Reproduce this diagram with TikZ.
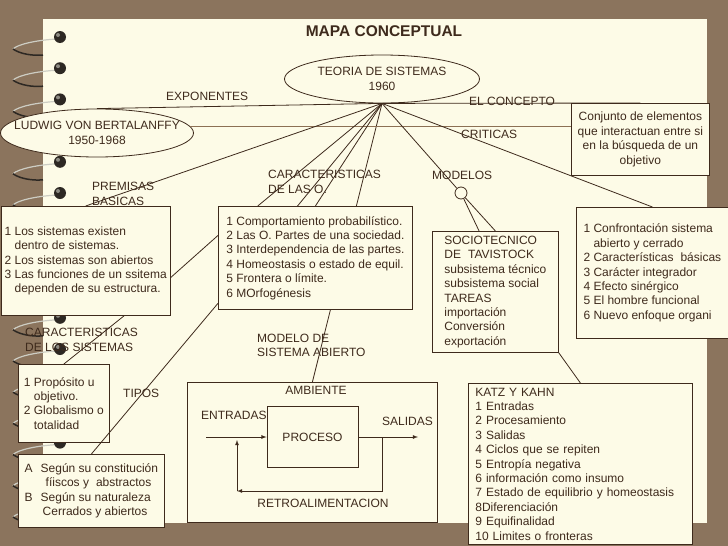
\documentclass[tikz,border=0pt]{standalone}
\usepackage{fontspec}
\setmainfont{Liberation Sans}
\usepackage{tikz}
\usetikzlibrary{calc,positioning,arrows,shapes}

\definecolor{bgbrown}{RGB}{139,116,93}
\definecolor{paper}{RGB}{253,251,231}
\definecolor{ink}{RGB}{62,42,28}
\definecolor{faint}{RGB}{140,112,84}
\definecolor{ringdark}{RGB}{45,40,35}
\definecolor{ringlight}{RGB}{205,205,195}

\begin{document}
\begin{tikzpicture}[x=1pt,y=-1pt,
    txt/.style={font=\fontsize{12}{14.4}\selectfont, text=ink, inner sep=0pt},
    lbl/.style={txt, align=left, anchor=west},
    cbox/.style={txt, draw=ink, fill=paper, align=left, anchor=north west, line width=0.8pt},
    oval/.style={txt, ellipse, draw=ink, fill=paper, align=center, line width=0.8pt},
    link/.style={draw=ink, line width=0.8pt}]
            \fill[bgbrown] (0,0) rectangle (728,546);
            \useasboundingbox (0,0) rectangle (728,546);
            \fill[paper] (43,19) rectangle (707,523);
            \foreach \i in {0,...,15}
              {
                \pgfmathsetmacro{\y}{37+31.2*\i}
                \draw[ringlight, line width=1.2pt] (57,{\y+2}) .. controls (38,{\y+3}) and (18,{\y+7}) .. (13,{\y+12});
                \draw[ringdark, line width=1.5pt] (13,{\y+12}) .. controls (20,{\y+17}) and (33,{\y+19}) .. (43,{\y+18});
                \fill[ringdark] (60,\y) circle (6);
                \fill[ringlight!60!ringdark] (58,{\y-2}) circle (2);
              }
            \node[txt, font=\fontsize{15.5}{18}\selectfont\bfseries] (title) at (384,31) {MAPA CONCEPTUAL};
            \node[oval, minimum width=195, minimum height=48] (teoria) at (382,79) {TEORIA DE SISTEMAS\\1960};
            \coordinate (hub) at (teoria.south);
            \node[oval, minimum width=193, minimum height=48, inner xsep=-35pt] (ludwig) at (97,133) {LUDWIG VON BERTALANFFY\\1950-1968};
            \node[cbox, minimum width=250, minimum height=140] (ambiente) at (187,382) {};
            \draw[link] (hub) -- (ambiente.north);
            \node[cbox, align=center, minimum width=138, minimum height=72] (concepto) at (571,103) {Conjunto de elementos\\que interactuan entre si\\en la búsqueda de un\\objetivo};
            \node[cbox, minimum width=169.5, minimum height=109] (premisas) at (0.5,206) {1 Los sistemas existen\\\hspace*{10pt}dentro de sistemas.\\2 Los sistemas son abiertos\\3 Las funciones de un ssitema\\\hspace*{10pt}dependen de su estructura.};
            \node[cbox, minimum width=194, minimum height=103] (caracO) at (218,206) {1 Comportamiento probabilístico.\\2 Las O. Partes de una sociedad.\\3 Interdependencia de las partes.\\4 Homeostasis o estado de equil.\\5 Frontera o límite.\\6 MOrfogénesis};
            \node[cbox, minimum width=91, minimum height=78] (caracS) at (18,364) {1 Propósito u\\\hspace*{10pt}objetivo.\\2 Globalismo o\\\hspace*{10pt}totalidad};
            \node[cbox, minimum width=146, minimum height=73] (tiposbox) at (18,454) {A\hspace{8pt}Según su constitución\\\hspace*{21pt}fíiscos y\hspace{7pt}abstractos\\B\hspace{8pt}Según su naturaleza\\\hspace*{18pt}Cerrados y abiertos};
            \node[cbox, minimum width=126, minimum height=121] (sociobox) at (432,231) {SOCIOTECNICO\\DE\hspace{7pt}TAVISTOCK\\subsistema técnico\\subsistema social\\TAREAS\\importación\\Conversión\\exportación};
            \node[cbox, minimum width=152, minimum height=131] (confront) at (576,207) {1 Confrontación sistema\\\hspace*{10pt}abierto y cerrado\\2 Características\hspace{7pt}básicas\\3 Carácter integrador\\4 Efecto sinérgico\\5 El hombre funcional\\6 Nuevo enfoque organi};
            \node[cbox, text width=210, inner xsep=7pt, inner ysep=4.5pt] (katz) at (468,383) {KATZ Y KAHN\\1 Entradas\\2 Procesamiento\\3 Salidas\\4 Ciclos que se repiten\\5 Entropía negativa\\6 información como insumo\\7 Estado de equilibrio y homeostasis\\8Diferenciación\\9 Equifinalidad\\10 Limites o fronteras};
            \node[draw=ink, fill=paper, circle, minimum size=12, inner sep=0pt, line width=0.8pt] (modcirc) at (461,193) {};
            \node[txt, draw=ink, fill=paper, minimum width=91, minimum height=61, line width=0.8pt] (proceso) at (312.5,437) {PROCESO};
            \draw[link] (ludwig.north) -- (hub);
            \draw[faint, line width=0.6pt] (ludwig.4) -- (ludwig.4 -| concepto.west);
            \draw[link] (hub) -- (concepto.north);
            \draw[link] (hub) -- (confront.north);
            \draw[link] (hub) -- (premisas.north);
            \draw[link] (hub) -- (caracO.138);
            \draw[link] (hub) -- (caracO.109);
            \draw[link] (hub) -- (caracO.north);
            \draw[link] (hub) -- (modcirc);
            \draw[link] (modcirc) -- (sociobox.105);
            \draw[link] (modcirc) -- (sociobox.north);
            \draw[link] (sociobox.south east) -- (katz.north);
            \draw[link] (premisas.-11) -- (caracO.167);
            \draw[link] (premisas.-55) -- (caracS.north);
            \draw[link] (caracO.205) -- (tiposbox.north);
            \node[lbl] (expo) at (166,96) {EXPONENTES};
            \node[lbl] (elcon) at (469,101) {EL CONCEPTO};
            \node[lbl] (crit) at (461,134) {CRITICAS};
            \node[lbl] (prem) at (92,194) {PREMISAS\\BASICAS};
            \node[lbl] (caroL) at (268,182) {CARACTERISTICAS\\DE LAS O.};
            \node[lbl] (modl) at (432,175) {MODELOS};
            \node[lbl] (carsL) at (25,340) {CARACTERISTICAS\\DE LOS SISTEMAS};
            \node[lbl] (modab) at (257,345.5) {MODELO DE\\SISTEMA ABIERTO};
            \node[lbl] (tiposL) at (123,393) {TIPOS};
            \node[lbl] (entr) at (201,415) {ENTRADAS};
            \node[lbl] (sal) at (382,421) {SALIDAS};
            \node[txt] (ambtxt) at (316,390) {AMBIENTE};
            \node[txt] (retro) at (323,503) {RETROALIMENTACION};
            \coordinate (inL) at (206,437);
            \coordinate (outR) at (418,437);
            \coordinate (fbR) at (382,437);
            \coordinate (fbL) at (237,491);
            \coordinate (fbT) at (237,440);
            \draw[link,-latex] (inL) -- (proceso.west);
            \draw[link,-latex] (proceso.east) -- (outR);
            \draw[link,-latex] (fbR) |- (fbL);
            \draw[link,-latex] (fbL) -- (fbT);
          \end{tikzpicture}
\end{document}
